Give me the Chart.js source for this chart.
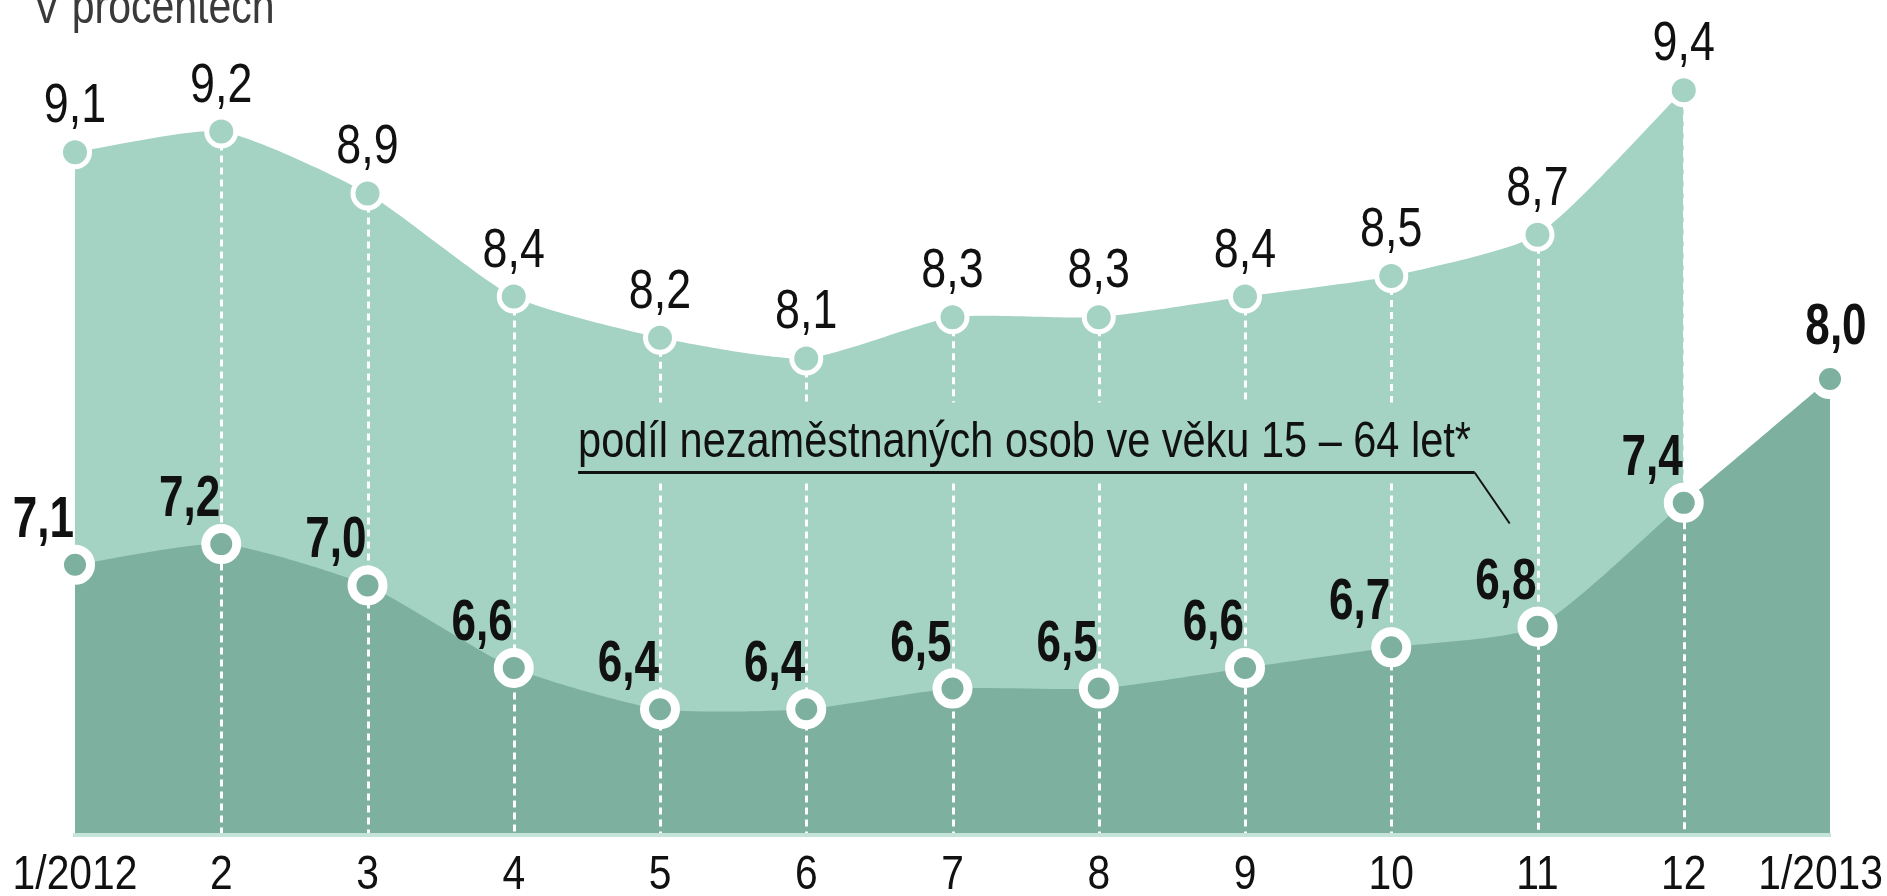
<!DOCTYPE html>
<html>
<head>
<meta charset="utf-8">
<script src="https://cdn.jsdelivr.net/npm/chart.js@4.4.0/dist/chart.umd.min.js"></script>
<style>
  html, body { margin: 0; padding: 0; background: #fff; }
  #wrap { width: 1887px; height: 896px; }
</style>
</head>
<body>
<div id="wrap"><canvas id="chart"></canvas></div>
<script>
const months = ['1/2012', '2', '3', '4', '5', '6', '7', '8', '9', '10', '11', '12', '1/2013'];
// horní řada – míra registrované nezaměstnanosti
const registeredRate = [9.1, 9.2, 8.9, 8.4, 8.2, 8.1, 8.3, 8.3, 8.4, 8.5, 8.7, 9.4, null];
// spodní řada – podíl nezaměstnaných osob ve věku 15–64 let
const unemployedShare = [7.1, 7.2, 7.0, 6.6, 6.4, 6.4, 6.5, 6.5, 6.6, 6.7, 6.8, 7.4, 8.0];
const unitLabel = 'V procentech';
const noteLabel = 'podíl nezaměstnaných osob ve věku 15 – 64 let*';

// narrow look: Liberation Sans squeezed horizontally
const FONT = '"Liberation Sans", Arial, sans-serif';
const LIGHT = 'rgb(164, 210, 195)';
const DARK = 'rgb(125, 176, 158)';

const fmt = v => v.toFixed(1).replace('.', ',');

function drawText(ctx, s, x, y, opts) {
  ctx.save();
  ctx.translate(x, y);
  ctx.scale(opts.sx, 1);
  ctx.font = (opts.bold ? 'bold ' : '') + opts.size + 'px ' + FONT;
  ctx.textAlign = opts.align || 'left';
  ctx.textBaseline = 'alphabetic';
  ctx.fillStyle = opts.color || '#111';
  ctx.fillText(s, 0, 0);
  ctx.restore();
}

function textWidth(ctx, s, opts) {
  ctx.save();
  ctx.font = (opts.bold ? 'bold ' : '') + opts.size + 'px ' + FONT;
  const w = ctx.measureText(s).width * opts.sx;
  ctx.restore();
  return w;
}

// where the note sits, in scale units (category index / percent)
const NOTE = { x0: 3.44, x1: 9.57, xEnd: 9.81, textY: 7.62, lineY: 7.547, endY: 7.30 };

const dashLines = {
  id: 'dashLines',
  beforeDatasetsDraw(chart) {
    const { ctx, chartArea } = chart;
    const x = chart.scales.x, y = chart.scales.y;
    const pts = chart.getDatasetMeta(1).data;
    const gapL = x.getPixelForValue(NOTE.x0) - 10;
    const gapR = x.getPixelForValue(NOTE.xEnd) + 10;
    const gapT = y.getPixelForValue(NOTE.textY) - 55;
    const gapB = y.getPixelForValue(NOTE.lineY) + 11;
    ctx.save();
    ctx.strokeStyle = '#fff';
    ctx.lineWidth = 3;
    ctx.setLineDash([7, 5]);
    pts.forEach((pt, i) => {
      if (i === 0 || registeredRate[i] == null) return;
      const px = Math.round(pt.x) + 0.5;
      ctx.beginPath();
      if (px > gapL && px < gapR) {
        ctx.moveTo(px, pt.y);
        ctx.lineTo(px, gapT);
        ctx.moveTo(px, gapB);
        ctx.lineTo(px, chartArea.bottom - 2);
      } else {
        ctx.moveTo(px, pt.y);
        ctx.lineTo(px, chartArea.bottom - 2);
      }
      ctx.stroke();
    });
    ctx.restore();
  }
};

const valueLabels = {
  id: 'valueLabels',
  afterDatasetsDraw(chart) {
    const { ctx } = chart;
    chart.getDatasetMeta(1).data.forEach((pt, i) => {
      if (registeredRate[i] == null) return;
      drawText(ctx, fmt(registeredRate[i]), pt.x, pt.y - 30, { size: 56, sx: 0.8, align: 'center' });
    });
    chart.getDatasetMeta(0).data.forEach((pt, i) => {
      const last = i === unemployedShare.length - 1;
      if (last) {
        drawText(ctx, fmt(unemployedShare[i]), pt.x + 6, pt.y - 35, { size: 58, sx: 0.76, bold: true, align: 'center' });
      } else {
        drawText(ctx, fmt(unemployedShare[i]), pt.x - 1, pt.y - 28, { size: 58, sx: 0.76, bold: true, align: 'right' });
      }
    });
  }
};

const note = {
  id: 'note',
  afterDatasetsDraw(chart) {
    const { ctx } = chart;
    const x = chart.scales.x, y = chart.scales.y;
    const x0 = x.getPixelForValue(NOTE.x0);
    const x1 = x.getPixelForValue(NOTE.x1);
    const xe = x.getPixelForValue(NOTE.xEnd);
    const ly = y.getPixelForValue(NOTE.lineY);
    drawText(ctx, noteLabel, x0, y.getPixelForValue(NOTE.textY), { size: 50, sx: 0.83 });
    ctx.save();
    ctx.strokeStyle = '#111';
    ctx.lineWidth = 3;
    ctx.beginPath();
    ctx.moveTo(x0, ly);
    ctx.lineTo(x1, ly);
    ctx.stroke();
    ctx.lineWidth = 2;
    ctx.beginPath();
    ctx.moveTo(x1, ly);
    ctx.lineTo(xe, y.getPixelForValue(NOTE.endY));
    ctx.stroke();
    ctx.restore();
  }
};

// month labels under the axis, taken from the x scale ticks
const monthLabels = {
  id: 'monthLabels',
  afterDraw(chart) {
    const { ctx, width } = chart;
    const x = chart.scales.x;
    const opts = { size: 48, sx: 0.85, align: 'center', color: '#111' };
    x.ticks.forEach((t, i) => {
      const s = chart.data.labels[i];
      const w = textWidth(ctx, s, opts);
      let cx = x.getPixelForTick(i);
      if (cx + w / 2 > width - 4) cx = width - 4 - w / 2;
      if (cx - w / 2 < 2) cx = 2 + w / 2;
      drawText(ctx, s, cx, chart.chartArea.bottom + 54, opts);
    });
    drawText(ctx, unitLabel, 33, 23, { size: 50, sx: 0.82, color: '#3a3a3a' });
  }
};

new Chart(document.getElementById('chart'), {
  type: 'line',
  data: {
    labels: months,
    datasets: [
      {
        data: unemployedShare,
        fill: 'start',
        backgroundColor: DARK,
        borderColor: 'transparent',
        borderWidth: 0,
        tension: 0.2,
        pointRadius: 15.5,
        pointHoverRadius: 15.5,
        pointBorderWidth: 9,
        pointBackgroundColor: DARK,
        pointBorderColor: '#fff'
      },
      {
        data: registeredRate,
        fill: 'start',
        backgroundColor: LIGHT,
        borderColor: 'transparent',
        borderWidth: 0,
        tension: 0.2,
        pointRadius: 14.5,
        pointHoverRadius: 14.5,
        pointBorderWidth: 5,
        pointBackgroundColor: LIGHT,
        pointBorderColor: '#fff'
      }
    ]
  },
  options: {
    responsive: true,
    maintainAspectRatio: false,
    animation: false,
    events: [],
    layout: { padding: { left: 75, right: 57, top: 49, bottom: 61 } },
    plugins: {
      legend: { display: false },
      tooltip: { enabled: false },
      filler: { drawTime: 'beforeDraw' }
    },
    scales: {
      x: {
        grid: { display: false, drawTicks: false },
        border: { display: true, color: 'rgb(196, 228, 217)', width: 4 },
        ticks: { display: false }
      },
      y: { display: false, min: 5.79, max: 9.6 }
    }
  },
  plugins: [dashLines, valueLabels, note, monthLabels]
});
</script>
</body>
</html>
